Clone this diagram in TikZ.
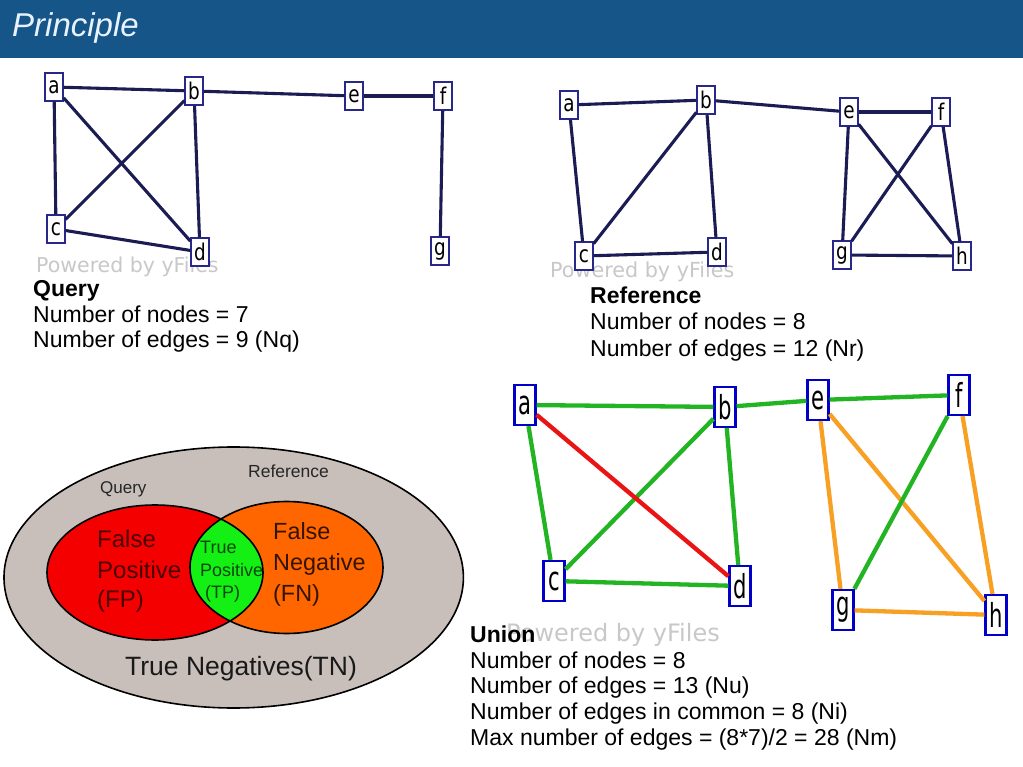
\documentclass[tikz,border=0pt]{standalone}
\usepackage{fontspec}
\setmainfont{Liberation Sans}
\newfontfamily\dvs{DejaVu Sans}
\definecolor{headblue}{RGB}{21,85,136}
\definecolor{titlecol}{RGB}{232,243,255}
\definecolor{qedgecol}{RGB}{28,28,84}
\definecolor{qborder}{RGB}{40,40,140}
\definecolor{wmgrey}{RGB}{200,200,200}
\definecolor{ublue}{RGB}{0,0,200}
\definecolor{ugreen}{RGB}{34,180,34}
\definecolor{ured}{RGB}{235,20,20}
\definecolor{uorange}{RGB}{247,160,35}
\definecolor{vgrey}{RGB}{200,191,186}
\definecolor{vred}{RGB}{245,0,0}
\definecolor{vorange}{RGB}{255,102,0}
\definecolor{vgreen}{RGB}{20,240,20}
\definecolor{fptext}{RGB}{75,0,0}
\definecolor{tptext}{RGB}{10,70,10}
\definecolor{fntext}{RGB}{50,20,0}
\newcommand\fsz[2]{\fontsize{#1}{#2}\selectfont}
\newcommand\qlab[1]{\scalebox{0.8}[1]{#1}}
\newcommand\ulab[1]{\scalebox{0.64}[1]{#1}}
\begin{document}
\begin{tikzpicture}[x=1pt,y=-1pt,
  qn/.style={draw=qborder,line width=1.2pt,fill=white,minimum width=18pt,minimum height=28pt,inner sep=0pt,font=\dvs\fsz{23}{23}},
  un/.style={draw=ublue,line width=2.2pt,fill=white,minimum width=21pt,minimum height=40pt,inner sep=0pt,font=\dvs\fsz{33}{33}},
  qe/.style={draw=qedgecol,line width=3.1pt},
  ge/.style={draw=ugreen,line width=4.3pt},
  re/.style={draw=ured,line width=4.3pt},
  oe/.style={draw=uorange,line width=4.3pt},
  txt/.style={anchor=base west,inner sep=0pt,font=\fsz{23}{26}},
  btxt/.style={txt,font=\fsz{23}{26}\bfseries},
  wm/.style={anchor=base west,inner sep=0pt,text=wmgrey,font=\dvs\fsz{20.5}{20.5}},
  vt/.style={anchor=base west,inner sep=0pt}
]
\useasboundingbox (0,0) rectangle (1023,767);
\fill[white] (0,0) rectangle (1023,767);
% header
\fill[headblue] (0,0) rectangle (1023,58);
\node[anchor=base west,inner sep=0pt,text=titlecol,font=\fsz{33}{36}\itshape] (title) at (12,37) {Principle};

% ---------- Query graph ----------
\node[wm] (qwm) at (36,273) {Powered by yFiles};
\node[qn] (qa) at (54,87) {\qlab{a}};
\node[qn] (qb) at (194,91) {\qlab{b}};
\node[qn] (qe) at (354,96) {\qlab{e}};
\node[qn] (qf) at (443,96) {\qlab{f}};
\node[qn] (qc) at (56,229) {\qlab{c}};
\node[qn] (qd) at (200,252) {\qlab{d}};
\node[qn] (qg) at (440,251) {\qlab{g}};
\draw[qe] (qa) -- (qb);
\draw[qe] (qa) -- (qc);
\draw[qe] (qa) -- (qd);
\draw[qe] (qb) -- (qc);
\draw[qe] (qb) -- (qd);
\draw[qe] (qc) -- (qd);
\draw[qe] (qb) -- (qe);
\draw[qe] (qe) -- (qf);
\draw[qe] (qf) -- (qg);
\node[btxt] (qt1) at (33,297) {Query};
\node[txt] (qt2) at (33,323) {Number of nodes = 7};
\node[txt] (qt3) at (33,348) {Number of edges = 9 (Nq)};

% ---------- Reference graph ----------
\node[wm,font=\dvs\fsz{20.7}{20.7}] (rwm) at (550,278) {Powered by yFiles};
\node[qn] (ra) at (569,105) {\qlab{a}};
\node[qn] (rb) at (706,100) {\qlab{b}};
\node[qn] (re) at (849,112) {\qlab{e}};
\node[qn] (rf) at (941,112) {\qlab{f}};
\node[qn] (rc) at (584,256) {\qlab{c}};
\node[qn] (rd) at (717,252) {\qlab{d}};
\node[qn] (rg) at (842,255) {\qlab{g}};
\node[qn] (rh) at (962,256) {\qlab{h}};
\draw[qe] (ra) -- (rb);
\draw[qe] (ra) -- (rc);
\draw[qe] (rb) -- (rc);
\draw[qe] (rb) -- (rd);
\draw[qe] (rc) -- (rd);
\draw[qe] (rb) -- (re);
\draw[qe] (re) -- (rf);
\draw[qe] (re) -- (rg);
\draw[qe] (re) -- (rh);
\draw[qe] (rf) -- (rg);
\draw[qe] (rf) -- (rh);
\draw[qe] (rg) -- (rh);
\node[btxt] (rt1) at (590,304) {Reference};
\node[txt] (rt2) at (590,330) {Number of nodes = 8};
\node[txt] (rt3) at (590,356) {Number of edges = 12 (Nr)};

% ---------- Union graph ----------
\node[wm,font=\dvs\fsz{24}{24}] (uwm) at (506,641) {Powered by yFiles};
\node[un] (ua) at (525,405) {\ulab{a}};
\node[un] (ub) at (725,407) {\ulab{b}};
\node[un] (uc) at (554,581) {\ulab{c}};
\node[un] (ud) at (740,586) {\ulab{d}};
\node[un] (ue) at (818,400) {\ulab{e}};
\node[un] (uf) at (959,395) {\ulab{f}};
\node[un] (ug) at (843,610) {\ulab{g}};
\node[un] (uh) at (996,615) {\ulab{h}};
\draw[oe] (ue) -- (ug);
\draw[oe] (ue) -- (uh);
\draw[oe] (uf) -- (uh);
\draw[oe] (ug) -- (uh);
\draw[ge] (ua) -- (ub);
\draw[ge] (ua) -- (uc);
\draw[ge] (ub) -- (uc);
\draw[ge] (ub) -- (ud);
\draw[ge] (uc) -- (ud);
\draw[ge] (ub) -- (ue);
\draw[ge] (ue) -- (uf);
\draw[ge] (uf) -- (ug);
\draw[re] (ua) -- (ud);
\node[btxt] (ut1) at (470,642) {Union};
\node[txt] (ut2) at (470,668) {Number of nodes = 8};
\node[txt] (ut3) at (470,693) {Number of edges = 13 (Nu)};
\node[txt] (ut4) at (470,719) {Number of edges in common = 8 (Ni)};
\node[txt] (ut5) at (470,745) {Max number of edges = (8*7)/2 = 28 (Nm)};

% ---------- Venn diagram ----------
\fill[vgrey,draw=black,line width=1.6pt] (233.7,577.5) ellipse [x radius=229.7pt,y radius=130.5pt];
\fill[vred] (155,572.5) ellipse [x radius=108pt,y radius=67.5pt];
\fill[vorange] (286.5,567.5) ellipse [x radius=96.5pt,y radius=66pt];
\begin{scope}
  \clip (155,572.5) ellipse [x radius=108pt,y radius=67.5pt];
  \fill[vgreen] (286.5,567.5) ellipse [x radius=96.5pt,y radius=66pt];
\end{scope}
\draw[black,line width=1.6pt] (155,572.5) ellipse [x radius=108pt,y radius=67.5pt];
\draw[black,line width=1.6pt] (286.5,567.5) ellipse [x radius=96.5pt,y radius=66pt];
\node[vt,font=\fsz{17}{17},text=black!85] (vq) at (100,493) {Query};
\node[vt,font=\fsz{17.5}{17.5},text=black!85] (vr) at (248,477) {Reference};
\node[vt,font=\fsz{24}{24},text=fptext] (fp1) at (97,547) {False};
\node[vt,font=\fsz{24}{24},text=fptext] (fp2) at (97,578) {Positive};
\node[vt,font=\fsz{24}{24},text=fptext] (fp3) at (97,607) {(FP)};
\node[vt,font=\fsz{18}{18},text=tptext] (tp1) at (200,553) {True};
\node[vt,font=\fsz{18}{18},text=tptext] (tp2) at (200,576) {Positive};
\node[vt,font=\fsz{18}{18},text=tptext] (tp3) at (205,598) {(TP)};
\node[vt,font=\fsz{23.4}{23.4},text=fntext] (fn1) at (273,539) {False};
\node[vt,font=\fsz{23.4}{23.4},text=fntext] (fn2) at (273,570) {Negative};
\node[vt,font=\fsz{23.4}{23.4},text=fntext] (fn3) at (273,601) {(FN)};
\node[vt,font=\fsz{26.5}{26.5},text=black!90] (tn) at (125,675) {True Negatives(TN)};
\end{tikzpicture}
\end{document}
